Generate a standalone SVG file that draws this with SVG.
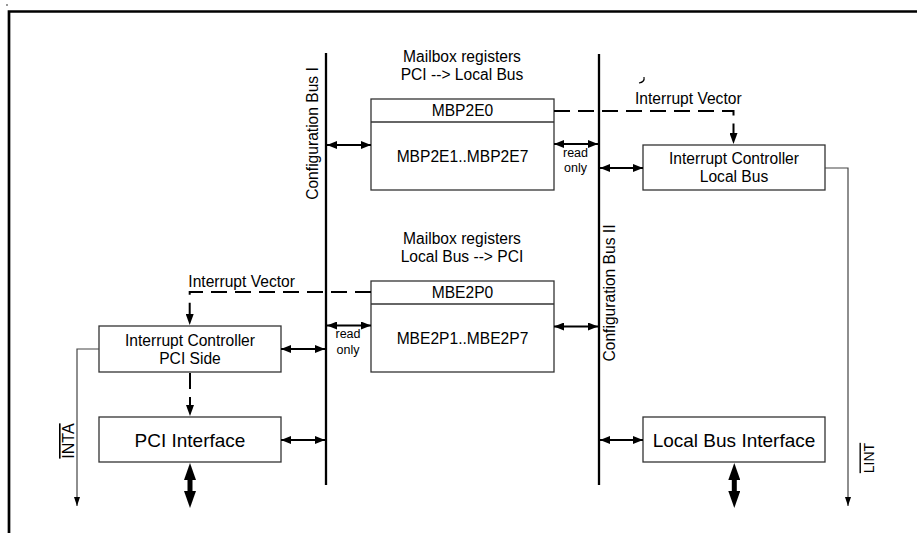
<svg xmlns="http://www.w3.org/2000/svg" width="917" height="533" viewBox="0 0 917 533">
<style>
text{font-family:"Liberation Sans",Arial,sans-serif;fill:#000}
.t{font-size:15.6px;text-anchor:middle}
.big{font-size:19px;text-anchor:middle}
.ro{font-size:12.5px;text-anchor:middle}
.box{fill:#fff;stroke:#333;stroke-width:1.3}
.bus{stroke:#000;stroke-width:2.3;fill:none}
.dbl{stroke:#000;stroke-width:2;fill:none;marker-start:url(#ah);marker-end:url(#ah)}
.dash{stroke:#000;stroke-width:2;fill:none;stroke-dasharray:16 8;marker-end:url(#ahd)}
.thin{stroke:#444;stroke-width:1.2;fill:none;marker-end:url(#aht)}
.fat{stroke:#000;stroke-width:5;fill:none;marker-start:url(#ahb);marker-end:url(#ahb)}
</style>
<defs>
<marker id="ah" markerUnits="userSpaceOnUse" markerWidth="10" markerHeight="8" refX="10" refY="4" orient="auto-start-reverse"><path d="M0,0 L10,4 L0,8 z" fill="#000"/></marker>
<marker id="ahd" markerUnits="userSpaceOnUse" markerWidth="11" markerHeight="8" refX="11" refY="4" orient="auto"><path d="M0,0 L11,4 L0,8 z" fill="#000"/></marker>
<marker id="aht" markerUnits="userSpaceOnUse" markerWidth="9" markerHeight="6" refX="9" refY="3" orient="auto"><path d="M0,0 L9,3 L0,6 z" fill="#000"/></marker>
<marker id="ahb" markerUnits="userSpaceOnUse" markerWidth="17" markerHeight="12" refX="1" refY="6" orient="auto-start-reverse"><path d="M0,0 L17,6 L0,12 z" fill="#000"/></marker>
</defs>
<rect x="6" y="4" width="2" height="2" fill="#999"/>
<path d="M9,533 V11.5 H917" fill="none" stroke="#000" stroke-width="2.7"/>
<path d="M644,77 Q645,82 639,83" fill="none" stroke="#000" stroke-width="1.2"/>

<g id="bus1">
<line class="bus" x1="326" y1="53" x2="326" y2="485"/>
<text class="t" transform="translate(317.5,133.5) rotate(-90)">Configuration Bus I</text>
</g>
<g id="bus2">
<line class="bus" x1="599" y1="54" x2="599" y2="485"/>
<text class="t" transform="translate(614.5,293) rotate(-90)">Configuration Bus II</text>
</g>

<g id="mbp2e">
<text class="t" x="462" y="62">Mailbox registers</text>
<text class="t" x="462" y="80">PCI --&gt; Local Bus</text>
<rect class="box" x="371" y="99" width="183" height="91"/>
<line x1="371" y1="122" x2="554" y2="122" stroke="#333" stroke-width="1.3"/>
<text class="t" x="462.5" y="116">MBP2E0</text>
<text class="t" x="462.5" y="162">MBP2E1..MBP2E7</text>
</g>

<g id="mbe2p">
<text class="t" x="462" y="244">Mailbox registers</text>
<text class="t" x="462" y="262">Local Bus --&gt; PCI</text>
<rect class="box" x="371" y="281" width="183" height="91"/>
<line x1="371" y1="304" x2="554" y2="304" stroke="#333" stroke-width="1.3"/>
<text class="t" x="462.5" y="298">MBE2P0</text>
<text class="t" x="462.5" y="344">MBE2P1..MBE2P7</text>
</g>

<g id="icLocal">
<rect class="box" x="643" y="145" width="182" height="45"/>
<text class="t" x="734" y="164">Interrupt Controller</text>
<text class="t" x="734" y="182">Local Bus</text>
</g>

<g id="icPci">
<rect class="box" x="99" y="326" width="182" height="46"/>
<text class="t" x="190" y="345.5">Interrupt Controller</text>
<text class="t" x="190" y="363.5">PCI Side</text>
</g>

<g id="pciIf">
<rect class="box" x="99" y="417" width="182" height="45"/>
<text class="big" x="190" y="446.5">PCI Interface</text>
</g>

<g id="localIf">
<rect class="box" x="643" y="417" width="182" height="45"/>
<text class="big" x="734" y="446.5">Local Bus Interface</text>
</g>

<g id="connectors">
<line class="dbl" x1="327" y1="145" x2="371" y2="145"/>
<line class="dbl" x1="554" y1="144" x2="598" y2="144"/>
<text class="ro" x="575.5" y="157">read</text>
<text class="ro" x="575.5" y="172">only</text>
<line class="dbl" x1="600" y1="168" x2="643" y2="168"/>
<line class="dbl" x1="281" y1="349" x2="325" y2="349"/>
<line class="dbl" x1="327" y1="325.5" x2="371" y2="325.5"/>
<text class="ro" x="348" y="338">read</text>
<text class="ro" x="348" y="353.5">only</text>
<line class="dbl" x1="554" y1="326.5" x2="598" y2="326.5"/>
<line class="dbl" x1="281" y1="440" x2="325" y2="440"/>
<line class="dbl" x1="600" y1="440" x2="643" y2="440"/>

<path class="dash" d="M554,111 H733.5 V144"/>
<text x="635" y="103.5" style="font-size:15.6px">Interrupt Vector</text>
<path class="dash" d="M371,292 H189.7 V325"/>
<text x="188.3" y="286.5" style="font-size:15.6px">Interrupt Vector</text>
<path class="dash" d="M190,373 V416"/>

<path class="thin" d="M825,168 H848 V506"/>
<text transform="translate(873.5,458) rotate(-90)" style="font-size:14px;text-anchor:middle;text-decoration:overline">LINT</text>
<path class="thin" d="M99,349 H77 V506"/>
<text transform="translate(74,441) rotate(-90)" style="font-size:16px;text-anchor:middle;text-decoration:overline">INTA</text>

<line class="fat" x1="190" y1="479" x2="190" y2="492"/>
<line class="fat" x1="734.3" y1="479" x2="734.3" y2="492"/>
</g>
</svg>
